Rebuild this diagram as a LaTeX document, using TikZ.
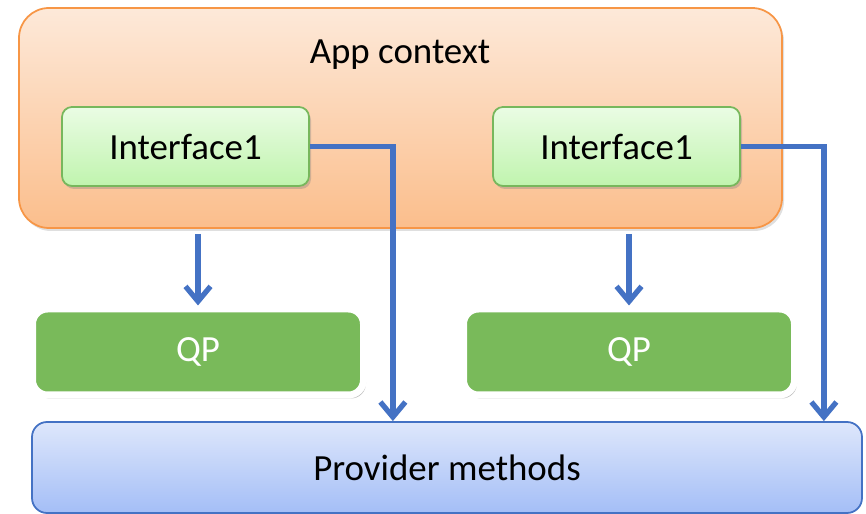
\documentclass[tikz,border=0pt]{standalone}
\usepackage{fontspec}
\setmainfont{Carlito}
\usetikzlibrary{positioning, arrows.meta, shadows, calc}
\definecolor{appline}{RGB}{247,150,70}
\definecolor{apptop}{RGB}{253,233,217}
\definecolor{appbot}{RGB}{251,190,140}
\definecolor{ifline}{RGB}{119,183,92}
\definecolor{iftop}{RGB}{234,252,228}
\definecolor{ifbot}{RGB}{192,244,174}
\definecolor{qpfill}{RGB}{121,186,90}
\definecolor{provline}{RGB}{68,114,196}
\definecolor{provtop}{RGB}{222,231,251}
\definecolor{provbot}{RGB}{164,190,247}
\definecolor{flowblue}{RGB}{68,114,196}

\begin{document}
\begin{tikzpicture}[
  big/.style={font=\fontsize{21}{25}\selectfont},
  ctx/.style={draw=appline, line width=1pt, rounded corners=0.6cm, top color=apptop, bottom color=appbot,
    minimum width=15.26cm, minimum height=4.4cm,
    drop shadow={shadow xshift=0.04cm, shadow yshift=-0.06cm, opacity=0.25}},
  iface/.style={big, draw=ifline, line width=1pt, rounded corners=0.2cm, top color=iftop, bottom color=ifbot,
    minimum width=4.94cm, minimum height=1.58cm,
    drop shadow={shadow xshift=0.04cm, shadow yshift=-0.06cm, opacity=0.35}},
  qpbox/.style={big, draw=white, line width=0.14cm, rounded corners=0.3cm, fill=qpfill, text=white,
    minimum width=6.62cm, minimum height=1.72cm,
    drop shadow={shadow xshift=0.05cm, shadow yshift=-0.07cm, opacity=0.5}},
  prov/.style={big, draw=provline, line width=1pt, rounded corners=0.3cm, top color=provtop, bottom color=provbot,
    minimum width=16.6cm, minimum height=1.82cm},
  flow/.style={draw=flowblue, line width=3pt, -{Straight Barb[length=3mm, width=5mm]}}
]
\node[ctx] (app) at (8.01,7.92) {};
\node[big] (applabel) at (8.0,9.18) {App context};
\node[iface] (ifA) at (3.71,7.35) {Interface1};
\node[iface] (ifB) at (12.33,7.35) {Interface1};

\node[qpbox] (qpA) at (3.96,3.24) {QP};
\node[qpbox] (qpB) at (12.58,3.24) {QP};

\node[prov] (provider) at (8.94,0.93) {Provider methods};

\draw[flow] ([yshift=-0.1cm]app.south -| qpA.north) -- (qpA.north);
\draw[flow] ([yshift=-0.1cm]app.south -| qpB.north) -- (qpB.north);

\draw[flow] (ifA.east) -- ++(1.66,0) coordinate (bendA) -- (bendA |- provider.north);
\draw[flow] (ifB.east) -- ++(1.66,0) coordinate (bendB) -- (bendB |- provider.north);

\pgfresetboundingbox
\useasboundingbox (0,0) rectangle (17.32,10.28);
\end{tikzpicture}
\end{document}
